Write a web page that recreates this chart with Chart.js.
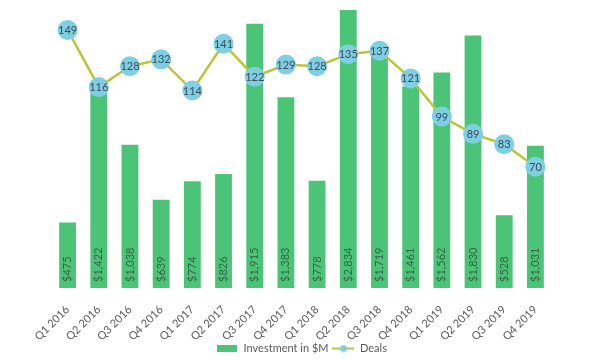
<!DOCTYPE html>
<html>
<head>
<meta charset="utf-8">
<script src="https://cdn.jsdelivr.net/npm/chart.js@4/dist/chart.umd.min.js"></script>
<style>
  html, body { margin: 0; padding: 0; background: #fff; }
  #wrap { width: 600px; height: 360px; }
</style>
</head>
<body>
<div id="wrap"><canvas id="deals-chart"></canvas></div>
<script>
var quarters = ["Q1 2016", "Q2 2016", "Q3 2016", "Q4 2016", "Q1 2017", "Q2 2017", "Q3 2017", "Q4 2017",
    "Q1 2018", "Q2 2018", "Q3 2018", "Q4 2018", "Q1 2019", "Q2 2019", "Q3 2019", "Q4 2019"];
var investment = [475, 1422, 1038, 639, 774, 826, 1915, 1383, 778, 2834, 1719, 1461, 1562, 1830, 528, 1031];
var deals = [149, 116, 128, 132, 114, 141, 122, 129, 128, 135, 137, 121, 99, 89, 83, 70];

var barColor = "#4cc477";
var lineColor = "#bcc43c";
var pointColor = "#7fcfe2";
var textGray = "#595959";

// small legend icons
function makeIcon(w, h, draw) {
    var c = document.createElement("canvas");
    c.width = w; c.height = h;
    draw(c.getContext("2d"));
    return c;
}
var barIcon = makeIcon(20, 7, function (g) {
    g.fillStyle = barColor;
    g.fillRect(0, 0, 20, 7);
});
var lineIcon = makeIcon(22, 8, function (g) {
    g.strokeStyle = lineColor;
    g.lineWidth = 2;
    g.beginPath(); g.moveTo(0, 4); g.lineTo(22, 4); g.stroke();
    g.fillStyle = pointColor;
    g.beginPath(); g.arc(11, 4, 3.5, 0, Math.PI * 2); g.fill();
});
var icons = [barIcon, lineIcon];

// value labels: rotated $ labels in bars, counts in circles
var valueLabels = {
    id: "valueLabels",
    afterDatasetsDraw: function (chart) {
        var ctx = chart.ctx;
        ctx.save();
        ctx.font = "11px Lato";
        var bars = chart.getDatasetMeta(0);
        ctx.fillStyle = "#346347";
        ctx.textAlign = "left";
        ctx.textBaseline = "middle";
        bars.data.forEach(function (bar, i) {
            ctx.save();
            ctx.translate(bar.x, bar.base - 6);
            ctx.rotate(-Math.PI / 2);
            ctx.fillText("$" + investment[i].toLocaleString("en-US"), 0, 0);
            ctx.restore();
        });
        var pts = chart.getDatasetMeta(1);
        ctx.fillStyle = "#3b4b5b";
        ctx.textAlign = "center";
        pts.data.forEach(function (p, i) {
            ctx.fillText(String(deals[i]), p.x, p.y + 0.5);
        });
        ctx.restore();
    }
};

var ctx = document.getElementById("deals-chart").getContext("2d");
var dealsChart = new Chart(ctx, {
    type: "bar",
    data: {
        labels: quarters,
        datasets: [{
            label: "Investment in $M",
            data: investment,
            backgroundColor: barColor,
            yAxisID: "y",
            order: 1,
            barPercentage: 0.54,
            categoryPercentage: 1
        }, {
            type: "line",
            label: "Deals",
            data: deals,
            borderColor: lineColor,
            borderWidth: 2.5,
            pointRadius: 10,
            pointBackgroundColor: pointColor,
            pointBorderWidth: 0,
            pointBorderColor: pointColor,
            yAxisID: "y1",
            order: 0
        }]
    },
    options: {
        responsive: true,
        maintainAspectRatio: false,
        animation: false,
        layout: {padding: {left: 52, right: 49, top: 7, bottom: -4}},
        scales: {
            x: {
                grid: {display: false},
                border: {display: false},
                afterFit: function (scale) { scale.height = 51; },
                ticks: {
                    color: textGray,
                    font: {family: "Lato", size: 11},
                    maxRotation: 45,
                    minRotation: 45,
                    padding: 7
                }
            },
            y: {display: false, min: 0, max: 2015},
            y1: {display: false, min: 0, max: 160.5, position: "right"}
        },
        plugins: {
            tooltip: {enabled: false},
            legend: {
                position: "bottom",
                labels: {
                    color: textGray,
                    font: {family: "Lato", size: 11},
                    usePointStyle: true,
                    pointStyleWidth: 22,
                    padding: 4,
                    generateLabels: function (chart) {
                        var items = Chart.defaults.plugins.legend.labels.generateLabels(chart);
                        items.forEach(function (it) { it.pointStyle = icons[it.datasetIndex]; });
                        return items.sort(function (a, b) { return a.datasetIndex - b.datasetIndex; });
                    }
                }
            }
        }
    },
    plugins: [valueLabels]
});
</script>
</body>
</html>
